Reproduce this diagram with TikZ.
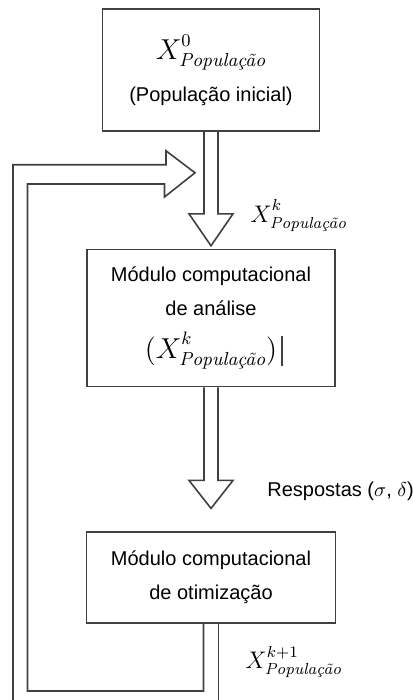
\documentclass[tikz,border=0pt]{standalone}
\usepackage{amsmath}
\usepackage{fontspec}
\setsansfont{Liberation Sans}
\usetikzlibrary{positioning, calc}
\definecolor{LinhaCinza}{RGB}{64,64,64}
\newcommand{\xpop}[1]{X^{\raisebox{1.5pt}{$\scriptstyle #1$}}_{\textnormal{\itshape População}}}

\begin{document}
\begin{tikzpicture}[
    caixa/.style={draw=LinhaCinza, line width=0.8pt, fill=white, align=center, font=\sffamily\fontsize{10}{12}\selectfont, inner sep=0pt},
    bloco/.style={draw=LinhaCinza, line width=0.8pt, line join=miter},
    rotulo/.style={inner sep=0pt, anchor=west}
  ]
    \useasboundingbox (0,0) rectangle (206pt,-350pt);

    \node[caixa, minimum width=108.5pt, minimum height=61pt] (inicial) at (105.5pt,-35pt) {{\fontsize{13.5}{14}\selectfont$\xpop{0}$}\\[7pt](População inicial)};
    \node[caixa, minimum width=124pt, minimum height=68.5pt, below=58.5pt of inicial] (analise) {Módulo computacional\\[5pt]de análise\\[7pt]{\fontsize{13.5}{14}\selectfont$(\xpop{k})$}};
    \node[caixa, minimum width=124.5pt, minimum height=45.5pt, below=72pt of analise] (otimiza) {Módulo computacional\\[5pt]de otimização};

    % setas largas
    \draw[bloco] ($(inicial.south)+(-3.5pt,0)$) |- ($(analise.north)+(-11pt,17.5pt)$) -- ($(analise.north)+(0,1.5pt)$) -- ($(analise.north)+(11pt,17.5pt)$) -| ($(inicial.south)+(3.5pt,0)$);
    \draw[bloco] ($(analise.south)+(-3.5pt,0)$) |- ($(otimiza.north)+(-11pt,25.5pt)$) -- ($(otimiza.north)+(0,11.5pt)$) -- ($(otimiza.north)+(11pt,25.5pt)$) -| ($(analise.south)+(3.5pt,0)$);

    % retorno
    \coordinate (ponta) at ($(inicial.south)+(-8pt,-20.5pt)$);
    \draw[bloco] ($(otimiza.south)+(-3.75pt,0)$) -- ++(0,-33.5pt) -- ++(-88pt,0) -- ++(0,253.5pt) -- ++(68.5pt,0) -- ++(0,-6.5pt) -- (ponta) -- ++(-14.5pt,11pt) -- ++(0,-7pt) -- ++(-76.5pt,0) -- ++(0,-268pt);
    \draw[bloco] ($(otimiza.south)+(3.75pt,0)$) -- ++(0,-40pt);
    \draw[LinhaCinza, line width=0.6pt] ($(analise.center)+(35.5pt,-9pt)$) -- ++(0,-15pt);

    \node[rotulo, font=\fontsize{12}{12}\selectfont] (xk) at ($(inicial.south)+(19.5pt,-42pt)$) {$\xpop{k}$};
    \node[rotulo, font=\sffamily\fontsize{10}{12}\selectfont] (resp) at ($(otimiza.north)+(28pt,20pt)$) {Respostas ($\sigma$, $\delta$)};
    \node[rotulo, font=\fontsize{12}{12}\selectfont] (xk1) at ($(otimiza.south)+(17pt,-19pt)$) {$\xpop{k+1}$};
  \end{tikzpicture}
\end{document}
